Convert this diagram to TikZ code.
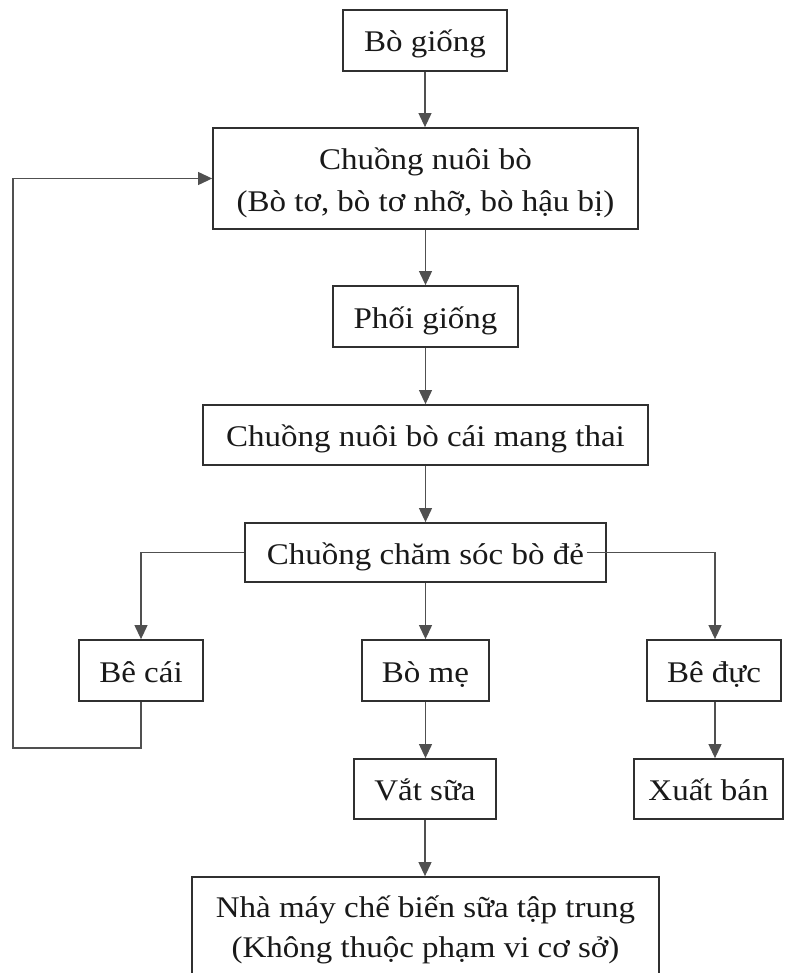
\documentclass[tikz,border=0pt]{standalone}
\usepackage{fontspec}
\setmainfont{Liberation Serif}[FakeStretch=1.1]
\usetikzlibrary{arrows.meta}
\definecolor{boxline}{HTML}{303030}
\definecolor{conline}{HTML}{505050}
\tikzset{
  basebox/.style={draw=boxline, line width=1.8pt, fill=white, inner sep=0pt,
    font=\fontsize{30}{42}\selectfont, text=black!90, align=center},
  stepbox/.style={basebox, text height=29pt, text depth=6pt},
  conn/.style={draw=conline, line width=1.1pt},
  arr/.style={conn, -{Triangle[length=14pt,width=13pt]}},
}
\begin{document}
\begin{tikzpicture}[x=1pt,y=-1pt]
\useasboundingbox (0,0) rectangle (784,973);
\fill[white] (0,0) rectangle (784,973);
\node[stepbox, minimum width=164pt, minimum height=61pt] (giong) at (425,40.5) {Bò giống};
\node[basebox, text height=75pt, text depth=8pt, minimum width=425pt, minimum height=101pt] (chuong) at (425.5,178.5) {Chuồng nuôi bò\\(Bò tơ, bò tơ nhỡ, bò hậu bị)};
\node[stepbox, minimum width=185pt, minimum height=61pt] (phoi) at (425.5,316.5) {Phối giống};
\node[stepbox, minimum width=445pt, minimum height=60pt] (thai) at (425.5,435) {Chuồng nuôi bò cái mang thai};
\node[stepbox, minimum width=361pt, minimum height=59pt] (de) at (425.5,552.5) {Chuồng chăm sóc bò đẻ};
\node[stepbox, minimum width=124pt, minimum height=61pt] (becai) at (141,670.5) {Bê cái};
\node[stepbox, minimum width=127pt, minimum height=61pt] (bome) at (425.5,670.5) {Bò mẹ};
\node[stepbox, minimum width=134pt, minimum height=61pt] (beduc) at (714,670.5) {Bê đực};
\node[stepbox, minimum width=142pt, minimum height=60pt] (vat) at (425,789) {Vắt sữa};
\node[stepbox, minimum width=149pt, minimum height=60pt] (xuat) at (708.5,789) {Xuất bán};
\node[basebox, font=\fontsize{30}{40}\selectfont, text height=55pt, text depth=8pt, minimum width=467pt, minimum height=113pt] (nhamay) at (425.5,933.5) {Nhà máy chế biến sữa tập trung\\(Không thuộc phạm vi cơ sở)};
\coordinate (loopA) at (13,748);
\draw[arr] (giong.south) -- (giong.south |- chuong.north);
\draw[arr] (chuong.south) -- (chuong.south |- phoi.north);
\draw[arr] (phoi.south) -- (phoi.south |- thai.north);
\draw[arr] (thai.south) -- (thai.south |- de.north);
\draw[arr] (de.west) -| (becai.north);
\draw[arr] (de.south) -- (de.south |- bome.north);
\draw[arr] ([xshift=-20pt]de.east) -| ([xshift=1pt]beduc.north);
\draw[arr] (bome.south) -- (bome.south |- vat.north);
\draw[arr] ([xshift=1pt]beduc.south) -- ([xshift=1pt]beduc.south |- xuat.north);
\draw[arr] (vat.south) -- (vat.south |- nhamay.north);
\draw[arr] (becai.south) |- (loopA) |- (chuong.west);
\end{tikzpicture}
\end{document}
